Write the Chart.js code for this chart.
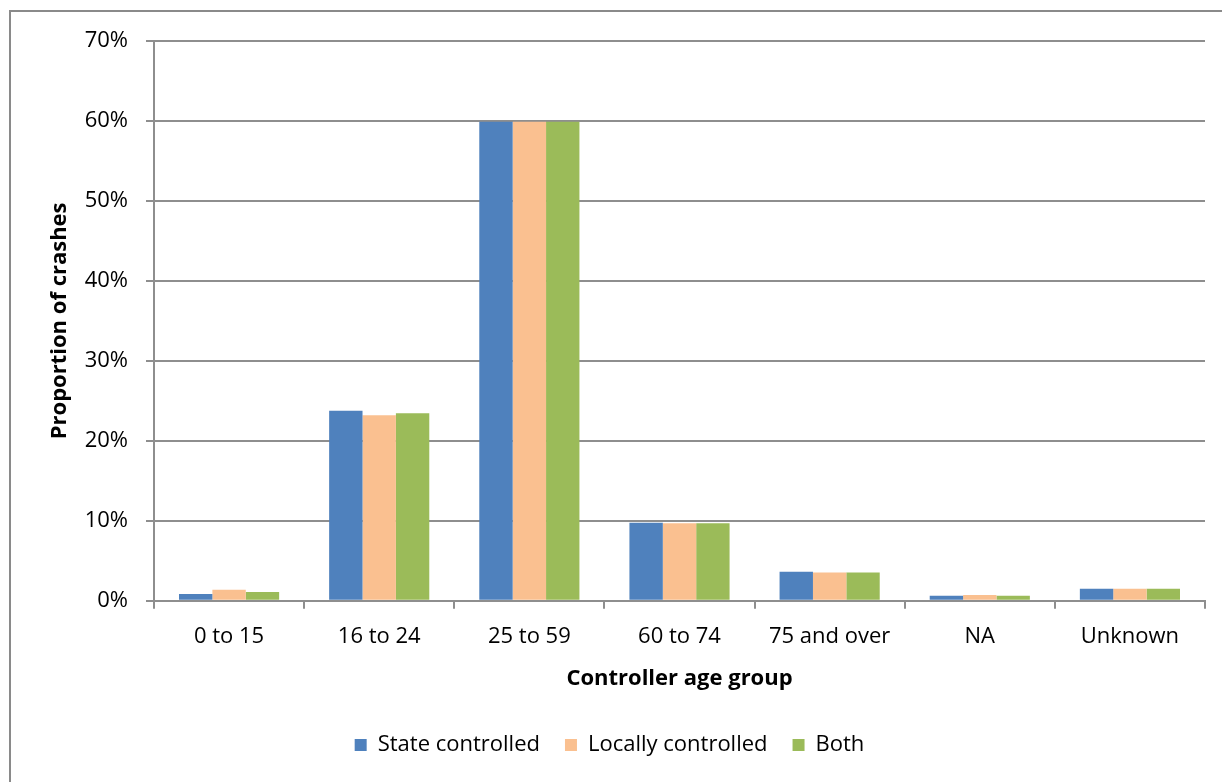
<!DOCTYPE html>
<html>
<head>
<meta charset="utf-8">
<title>Controller age group</title>
<script src="https://cdn.jsdelivr.net/npm/chart.js@4/dist/chart.umd.min.js"></script>
<style>
  html, body { margin: 0; padding: 0; background: #fff; }
  #wrap { position: relative; width: 1222px; height: 782px; overflow: hidden; }
  #frame { position: absolute; left: 9px; top: 10px; width: 1300px; height: 900px;
           border-left: 2px solid #8a8a8a; border-top: 2px solid #8a8a8a; pointer-events: none; }
  canvas { position: absolute; left: 0; top: 0; }
</style>
</head>
<body>
<div id="wrap">
  <canvas id="chart" width="1222" height="782"></canvas>
  <div id="frame"></div>
</div>
<script>
// Share of crashes by controller age group (percent)
const ageGroups = ['0 to 15', '16 to 24', '25 to 59', '60 to 74', '75 and over', 'NA', 'Unknown'];
const stateControlled   = [0.84, 23.75, 59.9, 9.75, 3.62, 0.62, 1.5];
const locallyControlled = [1.37, 23.2, 59.9, 9.7, 3.54, 0.71, 1.5];
const bothControlled    = [1.09, 23.45, 59.9, 9.7, 3.54, 0.62, 1.5];
const yTicks = [0, 10, 20, 30, 40, 50, 60, 70];

const FONT = '"Open Sans", "Liberation Sans", sans-serif';
const FS = 22;
const LINE = '#8e8e8e';

// Nudge the legend block horizontally after layout
const legendShift = {
  id: 'legendShift',
  afterLayout(chart) {
    const lg = chart.legend;
    if (!lg) return;
    const dx = -12;
    lg.left += dx; lg.right += dx;
    if (lg.legendHitBoxes) lg.legendHitBoxes.forEach(b => { b.left += dx; });
  }
};

new Chart(document.getElementById('chart'), {
  type: 'bar',
  data: {
    labels: ageGroups,
    datasets: [
      { label: 'State controlled', data: stateControlled, backgroundColor: '#4F81BD' },
      { label: 'Locally controlled', data: locallyControlled, backgroundColor: '#FAC090' },
      { label: 'Both', data: bothControlled, backgroundColor: '#9BBB59' }
    ]
  },
  options: {
    responsive: false,
    animation: false,
    datasets: { bar: { categoryPercentage: 0.667, barPercentage: 1.0, borderWidth: 0 } },
    layout: { padding: { left: 38, top: 41, right: 17, bottom: 16 } },
    plugins: {
      tooltip: { enabled: false },
      legend: {
        position: 'bottom',
        labels: {
          boxWidth: 12, boxHeight: 12, padding: 25,
          color: '#000',
          font: { family: FONT, size: FS }
        }
      }
    },
    scales: {
      x: {
        grid: { offset: true, drawOnChartArea: false, drawTicks: true, tickLength: 8, color: LINE, lineWidth: 2 },
        border: { color: LINE, width: 2 },
        ticks: { color: '#000', padding: 15, font: { family: FONT, size: FS } },
        title: {
          display: true, text: 'Controller age group', color: '#000',
          font: { family: FONT, size: FS, weight: 'bold' },
          padding: { top: 0, bottom: 17.5 }
        }
      },
      y: {
        min: 0, max: 70,
        afterFit(scale) { scale.width = 154 - 38; },
        afterBuildTicks(scale) { scale.ticks = yTicks.map(v => ({ value: v })); },
        grid: { color: LINE, lineWidth: 2, drawTicks: true, tickLength: 8 },
        border: { color: LINE, width: 2 },
        ticks: {
          color: '#000', padding: 18, font: { family: FONT, size: FS },
          callback: v => v + '%'
        },
        title: {
          display: true, text: 'Proportion of crashes', color: '#000',
          font: { family: FONT, size: FS, weight: 'bold' },
          padding: { top: 9, bottom: 0 }
        }
      }
    }
  },
  plugins: [legendShift]
});
</script>
</body>
</html>
